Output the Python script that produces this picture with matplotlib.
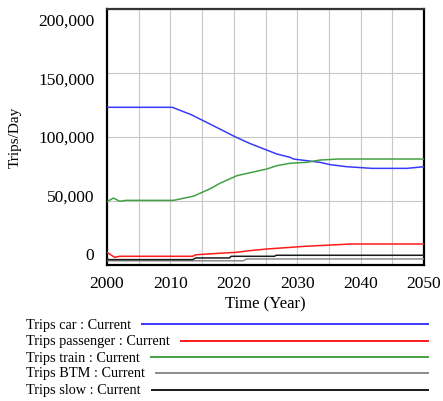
import matplotlib
matplotlib.use('Agg')
import matplotlib.pyplot as plt
from matplotlib.lines import Line2D

plt.rcParams['font.family'] = ['Liberation Serif', 'DejaVu Serif']

# ── data ────────────────────────────────────────────────────────────────────
car_years = [2000, 2010.3, 2013.3, 2015.2, 2017.5, 2020.2, 2022.5, 2025.2, 2026.8,
             2028.9, 2029.4, 2031.5, 2033.6, 2035.2, 2037.8, 2041.8, 2047.3, 2050]
car_vals = [123200, 123200, 117400, 112700, 107000, 100200, 95000, 89800, 86700,
            84100, 82800, 81500, 80200, 78400, 76800, 75500, 75500, 76800]

train_years = [2000, 2001, 2002, 2003, 2010.5, 2013.6, 2016.2, 2017.8, 2020.5,
               2025.2, 2026.8, 2028.9, 2031.5, 2033.6, 2036.5, 2050]
train_vals = [49400, 52300, 49800, 50500, 50500, 53700, 59400, 63800, 69800,
              75000, 77600, 79500, 80200, 82000, 82800, 82800]

pass_years = [2000, 2001.2, 2002, 2013.5, 2014, 2016, 2017.5, 2020.4, 2022.5,
              2025.2, 2029, 2031.2, 2038.5, 2050]
pass_vals = [9900, 6000, 6800, 6800, 8000, 8600, 9100, 9900, 11200,
             12500, 13800, 14600, 16400, 16400]

btm_years = [2000, 2021.5, 2022, 2050]
btm_vals = [3300, 3300, 4700, 4700]

slow_years = [2000, 2013.5, 2014, 2019.3, 2019.6, 2026.4, 2026.7, 2050]
slow_vals = [4200, 4200, 5500, 5500, 6800, 6800, 7600, 7600]

series = [
    ('Trips car : Current', car_years, car_vals, '#3a3aff'),
    ('Trips passenger : Current', pass_years, pass_vals, '#ff1a1a'),
    ('Trips train : Current', train_years, train_vals, '#45a045'),
    ('Trips BTM : Current', btm_years, btm_vals, '#8c8c8c'),
    ('Trips slow : Current', slow_years, slow_vals, '#1a1a1a'),
]

x_ticks = [2000, 2010, 2020, 2030, 2040, 2050]
y_labels = ['0', '50,000', '100,000', '150,000', '200,000']

# ── figure ──────────────────────────────────────────────────────────────────
W, H = 443, 402
fig = plt.figure(figsize=(W / 100, H / 100), dpi=100, facecolor='white')
ax = fig.add_axes([107 / W, 1 - 266 / H, 317 / W, 256 / H])

for label, xs, ys, col in series:
    ax.plot(xs, ys, color=col, lw=1.1, zorder=3)

ax.set_xlim(2000, 2050)
ax.set_ylim(0, 200000)
ax.set_xticks(range(2000, 2051, 5))
ax.set_xticklabels([str(y) if y in x_ticks else '' for y in range(2000, 2051, 5)],
                   fontsize=12.5)
ax.set_yticks([0, 50000, 100000, 150000, 200000])
ax.set_yticklabels([])
ax.grid(True, color='#c8c8c8', lw=0.8, zorder=0)
ax.tick_params(axis='both', length=0, pad=7)

for s in ax.spines.values():
    s.set_linewidth(1.6)
    s.set_color('black')
ax.spines['top'].set_color('#333333')

# Vensim spreads the y labels slightly inside the axis ends
for i, lab in enumerate(y_labels):
    ax.text(-0.04, 0.039 + i * 0.2285, lab, transform=ax.transAxes,
            ha='right', va='center', fontsize=12.5)

ax.set_xlabel('Time (Year)', fontsize=12, labelpad=3.5)
fig.text(15 / W, 1 - 137 / H, 'Trips/Day', rotation=90, ha='center', va='center',
         fontsize=11)

# ── legend below ────────────────────────────────────────────────────────────
row_y = [325, 341.7, 358.3, 374, 390.7]
fig.canvas.draw()
renderer = fig.canvas.get_renderer()
for (label, xs, ys, col), py in zip(series, row_y):
    t = fig.text(26 / W, 1 - py / H, label, ha='left', va='center', fontsize=10.3)
    bb = t.get_window_extent(renderer)
    x0 = (bb.x1 + 11) / W
    fig.add_artist(Line2D([x0, 428 / W], [1 - py / H, 1 - py / H],
                          transform=fig.transFigure, color=col, lw=1.4))

fig.savefig('out.png', dpi=100, facecolor='white')
